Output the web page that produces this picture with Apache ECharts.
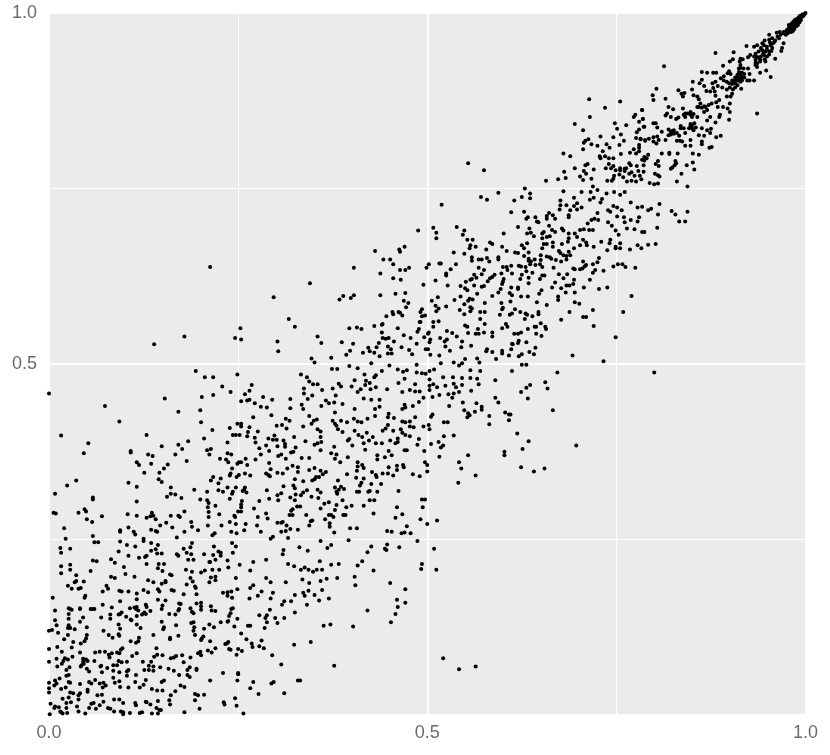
<!DOCTYPE html>
<html><head><meta charset="utf-8">
<style>html,body{margin:0;padding:0;background:#fff}#c{width:830px;height:755px}</style>
<script src="https://cdn.jsdelivr.net/npm/echarts@6/dist/echarts.min.js"></script>
</head><body><div id="c"></div>
<script>
// Values, in thousandths, as flat x,y,x,y lists, one list per part of the plot.
const tickLabels = ['0.0', '0.5', '1.0'];
const lowerLeft = [15,238,16,231,28,237,60,246,65,246,94,247,92,233,103,242,114,240,125,248,135,245,144,242,141,236,135,234,143,230,149,230,105,227,119,224,127,225,129,227,169,229,171,227,178,237,187,239,189,245,182,231,188,229,184,221,191,221,205,229,218,240,224,233,227,231,227,227,217,228,213,218,212,218,220,221,236,220,242,245,247,240,243,231,237,210,270,218,
16,212,16,202,28,214,28,207,58,220,63,219,55,205,82,222,87,217,99,211,101,201,113,197,82,197,87,195,129,215,145,215,152,215,144,209,150,205,160,200,162,199,181,207,189,204,201,203,206,206,216,207,225,207,36,199,36,191,34,189,46,190,25,184,30,180,39,180,42,181,76,184,78,180,71,176,93,177,96,176,105,176,116,173,125,178,131,192,138,189,131,175,144,179,146,176,149,187,154,191,154,189,162,178,165,177,182,186,187,195,190,190,193,183,194,181,178,172,195,172,212,189,214,196,220,197,220,192,230,174,236,175,241,176,236,170,242,167,247,195,249,179,252,214,266,206,270,185,266,181,276,170,281,176,287,195,293,189,287,221,265,166,293,166,296,174,
5,167,48,170,47,167,94,162,116,165,144,164,154,163,172,159,71,157,83,153,107,152,113,153,116,154,128,157,129,154,150,156,149,151,174,158,172,151,171,149,187,152,195,159,201,160,201,155,201,150,214,155,215,149,220,148,241,151,243,152,240,145,238,141,28,151,30,150,41,151,55,151,58,151,60,151,8,149,26,152,26,144,26,137,41,152,81,143,81,137,69,139,92,143,94,144,96,146,102,140,109,135,108,136,116,141,115,151,118,149,123,143,126,146,134,148,128,144,159,144,167,143,189,147,191,145,149,133,8,135,45,139,41,133,10,128,26,128,25,124,28,124,34,122,50,125,92,129,94,123,116,129,152,125,151,122,168,128,188,131,191,132,192,125,191,120,193,114,205,123,212,129,218,125,227,132,236,133,237,134,245,126,249,137,263,127,266,127,278,142,286,138,288,142,292,150,288,132,285,124,299,138,302,131,
0,120,4,121,12,117,25,114,50,114,72,120,79,114,84,110,92,115,93,113,121,124,138,114,160,110,160,108,171,113,204,112,202,109,201,107,20,108,49,109,47,105,42,102,32,104,108,105,119,110,118,105,115,103,213,105,237,104,235,102,233,101,254,116,261,108,268,102,269,97,281,106,278,98,284,95,30,96,11,97,0,94,17,90,41,89,61,89,67,90,74,90,79,86,83,88,90,89,95,93,97,95,93,88,142,95,143,86,150,85,110,84,116,88,197,88,200,90,201,85,210,92,215,89,220,95,238,94,240,93,250,94,255,91,248,86,295,85,
0,76,10,80,21,81,19,77,25,79,31,83,45,80,49,79,51,77,45,76,17,73,11,69,27,68,43,71,42,69,46,73,50,66,53,62,60,77,69,70,68,69,77,67,80,82,85,71,90,71,92,77,96,75,103,76,124,76,135,76,139,83,132,70,138,69,126,64,132,64,138,63,147,68,158,66,161,81,165,82,168,84,176,85,187,82,178,75,165,63,186,68,183,64,195,66,195,64,172,57,183,57,186,54,230,60,250,60,250,58,249,49,105,64,103,62,93,61,85,63,70,61,23,64,23,56,26,57,14,52,8,49,26,47,28,46,41,44,0,46,7,42,10,45,0,38,0,32,16,37,22,39,56,45,53,47,61,50,67,45,72,46,71,39,75,42,85,53,87,46,93,48,103,56,115,57,94,40,105,39,114,47,120,39,125,43,128,50,136,37,143,35,150,35,152,49,149,47,174,42,179,40,167,34,161,28,213,49,266,38,270,47,277,30,294,45,297,47,
51,36,51,33,41,31,28,32,32,31,39,28,39,22,26,25,18,23,64,28,70,29,193,30,197,28,205,29,246,24,193,21,159,21,86,22,93,22,98,17,114,17,115,14,128,19,129,18,134,15,144,20,160,15,231,18,232,15,248,13,199,9,2,16,8,12,13,11,7,10,23,17,29,18,23,10,37,12,56,16,59,17,53,10,62,9,72,19,67,14,78,10,81,9,86,5,95,5,98,4,123,4,120,3,107,3,142,10,146,7,148,7,136,2,144,2,179,4,257,2,15,5,16,4,18,2,24,3,1,1,39,5,48,2,98,1];
const lowerMiddle = [359,248,396,249,487,248,509,237,373,242,368,238,331,239,310,235,342,234,309,229,426,240,421,232,447,243,444,237,446,235,463,239,358,219,414,219,373,214,383,215,408,213,493,215,492,208,512,207,316,215,324,212,333,207,338,210,343,207,349,204,354,207,361,207,429,206,404,197,381,195,367,194,335,193,359,191,344,188,313,189,451,188,405,185,471,179,361,178,343,177,336,174,325,171,338,170,351,171,370,166,357,163,320,162,311,162,460,164,471,160,461,154,308,157,341,157,325,146,421,149,458,144,311,138,452,132,363,127,372,129,402,126,346,104,324,100,521,81,307,72,377,70,564,69,542,65,329,49,332,49,311,31];
const leftMiddle = [0,458,139,528,194,490,206,481,217,481,249,485,229,468,268,470,240,460,265,462,259,457,217,456,202,453,153,451,74,440,283,453,295,449,254,447,262,448,265,449,272,444,280,439,288,438,200,434,171,432,294,427,270,424,93,418,201,417,249,415,254,415,254,411,239,409,265,410,301,412,216,406,263,403,276,404,243,399,247,399,252,399,262,397,16,398,129,399,272,395,290,394,298,398,296,392,301,392,205,394,184,390,236,388,273,388,52,387,171,385,149,383,287,384,302,383,176,379,278,380,209,377,214,379,108,376,108,374,46,373,131,371,137,369,167,371,212,371,236,373,241,371,291,376,280,371,226,365,234,364,237,360,260,365,273,364,182,362,116,360,135,358,119,356,157,357,249,358,251,360,254,360,262,356,291,359,303,369,152,351,242,351,293,350,146,345,126,345,240,344,239,341,248,339,251,342,259,344,266,341,287,344,290,342,292,340,302,345,217,339,214,334,227,337,145,336,149,332,36,334,105,331,24,327,116,325,161,324,224,330,236,324,247,324,259,324,256,319,261,317,258,321,192,321,209,318,224,320,230,318,243,318,242,315,288,320,302,313,8,315,156,311,161,315,167,314,175,309,58,310,58,307,200,307,209,306,239,308,291,308,278,305,303,306,116,304,211,302,255,305,254,300,254,296,220,298,210,296,271,294,47,293,49,290,6,288,9,287,39,288,104,286,136,288,211,289,250,290,254,290,179,290,287,287,70,283,116,284,134,283,138,284,129,281,141,279,161,284,171,284,173,282,211,282,225,286,245,284,246,282,276,282,289,280,50,279,57,275,155,274,188,275,239,275,302,274,260,272,247,272,210,270,228,270,275,270,189,268,147,270,20,266,105,267,163,267,94,263,94,261,135,264,141,262,143,261,112,261,197,263,179,261,258,263,241,261,248,259,280,261,219,259,216,256,114,257,58,255,169,253,296,254,293,251,22,251,125,251];
const centre = [351,502,397,497,374,493,381,493,408,494,450,498,426,501,440,490,461,492,486,499,468,489,473,491,486,488,493,487,498,486,503,490,509,492,518,501,535,502,542,498,546,501,557,491,569,502,570,490,333,485,341,481,344,475,349,471,355,471,417,485,432,484,430,481,404,477,419,476,424,473,418,470,383,472,386,468,400,468,462,473,470,479,484,471,503,478,508,471,513,467,521,481,534,481,546,480,557,480,566,479,568,471,590,477,535,472,538,467,524,469,546,470,503,469,503,463,558,462,337,465,337,458,361,463,375,465,379,455,348,455,342,450,319,450,366,448,377,445,370,444,388,443,412,464,408,460,425,464,432,467,447,464,467,460,477,463,484,461,490,461,507,453,516,456,528,457,535,458,542,460,533,452,495,452,489,446,416,451,426,449,437,449,437,439,431,436,470,442,471,438,481,440,467,436,590,452,594,445,547,445,565,444,529,440,572,439,572,435,549,434,563,432,554,430,556,427,553,424,582,426,582,414,603,431,608,428,608,420,
334,442,319,437,336,436,360,440,404,436,378,431,344,426,313,422,318,419,354,421,350,419,347,415,375,419,386,419,394,417,403,422,408,418,413,417,421,422,431,426,449,429,448,424,456,423,484,424,467,418,471,417,477,418,507,428,505,425,522,417,527,417,308,413,314,408,336,411,355,407,359,404,378,415,380,412,382,407,388,403,404,405,409,399,420,402,441,405,445,408,448,413,455,405,465,407,467,402,471,399,477,411,482,410,477,397,495,411,502,413,503,407,522,397,535,398,324,396,339,390,359,396,360,389,355,387,351,385,310,391,312,386,312,382,326,381,323,375,320,374,397,393,395,391,401,384,414,396,416,387,423,391,428,396,432,387,440,387,451,391,461,394,461,389,458,387,489,393,487,385,505,386,515,389,521,384,518,381,377,382,373,373,380,371,378,365,385,360,359,377,418,378,449,376,470,377,473,377,496,376,434,370,453,370,444,367,434,364,395,367,307,371,313,365,334,366,344,366,516,368,554,370,542,360,602,375,602,370,497,360,500,356,545,351,500,347,
408,360,414,356,416,352,408,354,407,348,460,355,460,349,468,356,469,353,449,353,427,346,432,342,433,339,441,344,448,344,455,341,481,343,490,340,564,341,541,331,322,355,329,353,315,351,344,349,351,352,359,348,366,346,362,343,357,339,329,346,309,344,325,336,353,339,351,336,348,334,336,333,394,343,406,338,416,337,382,334,413,331,411,327,426,329,439,329,323,327,325,323,310,326,341,320,355,321,336,317,359,317,378,324,386,325,390,322,383,321,380,318,381,315,407,318,410,318,422,318,424,319,434,318,462,319,307,316,326,314,333,313,347,311,356,309,319,310,325,306,388,306,424,306,430,306,493,307,497,307,364,301,370,303,380,299,378,292,359,294,393,296,400,298,416,298,460,296,494,296,328,297,332,297,322,293,320,291,318,285,322,285,340,285,370,285,373,285,376,282,389,285,392,285,429,287,467,286,458,281,365,279,491,279,513,277,346,276,348,277,309,275,307,274,314,270,344,270,371,273,371,268,500,272,473,269,319,265,329,264,313,262,307,261,398,266,407,266,377,260,447,262,453,261,470,260,466,259,478,259,316,252];
const rightMiddle = [733,504,625,499,631,499,612,490,672,488,800,488,656,474,636,470,631,466,624,460,659,465,633,451,666,434,610,428,619,401,634,390,697,384,626,379,624,353,641,347,655,351];
const upperLeft = [488,690,470,667,463,663,464,660,431,661,442,649,451,649,455,642,403,637,464,634,471,634,476,637,438,629,455,622,465,620,213,638,345,615,297,595,384,592,389,597,399,594,403,598,438,598,458,600,471,601,469,590,475,587,472,581,454,574,455,571,462,574,464,573,467,569,446,568,317,564,325,553,253,551,179,539,246,537,254,535,302,532,303,518,355,539,360,530,347,508,373,509,387,531,397,551,407,552,413,550,402,529,398,519,393,513,415,516,422,523,424,518,430,554,440,556,441,557,440,545,441,537,445,536,449,537,461,551,456,532,436,530,433,524,430,516,437,511,448,525,452,521,448,515,453,515,466,524,469,541,478,537,486,529,487,546,489,550,490,560,476,520,480,514];
const upperMiddle = [554,786,575,776,714,877,755,874,735,865,784,862,715,852,775,855,773,852,785,849,780,845,695,842,748,843,763,840,786,838,706,833,751,835,780,834,777,830,756,827,729,824,746,823,776,822,782,821,713,820,709,818,707,815,760,818,788,818,717,813,725,811,737,813,754,812,780,812,741,808,706,806,773,806,780,808,732,803,780,803,680,800,768,801,776,800,689,796,756,799,735,796,728,796,729,793,740,793,746,793,787,795,784,791,767,786,769,783,740,785,712,785,709,783,746,782,777,782,786,783,695,779,736,779,743,779,720,777,749,776,755,779,755,776,761,778,763,779,761,775,779,775,786,774,681,774,707,775,710,771,770,773,767,771,781,768,754,770,747,768,746,764,759,766,774,768,683,765,702,767,717,764,706,762,783,763,657,761,673,763,738,761,744,761,764,760,770,761,776,760];
const middleUpper = [519,727,571,738,579,734,594,744,615,733,625,738,636,743,636,736,629,750,611,716,628,717,633,709,631,707,643,709,645,703,647,702,620,695,601,686,539,695,508,694,512,687,512,679,549,690,547,684,553,677,560,677,557,669,556,665,564,667,535,659,549,657,578,663,583,673,586,671,599,667,605,661,616,659,620,658,625,669,632,672,628,665,634,659,632,686,637,687,635,693,641,682,652,686,654,688,661,715,658,711,658,707,666,712,669,707,676,733,676,726,675,720,684,726,689,719,698,729,694,725,704,723,698,720,694,737,680,746,704,745,715,734,720,737,716,745,731,735,729,730,719,753,725,748,737,743,747,745,755,741,761,745,769,730,746,725,751,723,757,719,739,719,742,717,725,715,778,723,784,724,792,719,687,712,687,709,661,697,665,691,669,688,678,693,680,690,702,691,707,692,714,691,719,691,712,700,717,705,721,707,726,705,739,702,744,697,749,690,753,684,751,710,760,709,769,705,780,709,761,702,778,703,764,693,774,692,784,688,787,688,
652,679,658,681,662,682,654,671,658,671,666,673,666,667,678,671,687,686,695,686,687,679,686,674,698,681,706,677,702,669,710,673,711,669,720,667,730,674,742,677,741,672,738,662,749,667,755,672,749,665,755,665,768,663,778,669,783,665,792,670,652,665,650,655,650,648,642,649,637,646,634,647,636,642,643,641,649,642,628,654,634,650,559,652,559,647,568,649,572,649,579,651,582,646,594,652,594,649,658,653,662,652,664,650,670,648,674,661,676,658,680,655,684,649,677,646,684,654,689,655,687,660,694,665,516,643,518,643,502,642,499,637,538,642,531,635,525,629,525,626,562,627,568,637,575,634,572,628,589,627,598,629,600,638,605,638,606,634,612,629,611,640,621,640,624,639,630,638,631,632,625,627,639,630,652,638,667,637,674,628,685,628,693,636,695,635,702,635,705,636,708,639,710,641,706,646,719,642,725,645,727,651,722,634,719,630,733,633,746,639,752,642,758,642,762,638,775,637,
511,619,495,613,527,612,551,617,557,620,559,621,565,623,544,611,550,608,553,605,562,612,566,600,572,610,575,611,580,618,583,622,586,624,601,621,600,617,599,614,597,607,594,602,611,609,620,609,620,607,609,601,623,621,634,623,634,615,649,621,652,626,655,626,651,605,648,600,669,616,665,609,677,608,680,622,684,612,688,612,693,614,694,620,683,602,695,602,707,609,715,620,727,607,738,609,770,597,506,590,514,595,511,583,515,579,512,575,493,578,491,574,525,582,536,591,544,596,556,593,554,590,560,592,549,585,543,577,557,581,559,579,576,587,586,597,598,587,610,589,612,598,624,596,633,596,645,588,658,584,673,596,673,591,695,588,701,586,719,577,759,574,549,571,557,575,576,574,570,574,596,570,600,580,599,578,609,570,612,572,616,578,623,574,630,572,632,570,639,568,647,574,647,571,688,574,706,567,710,567,677,563,720,554,749,538,
497,569,493,568,491,560,508,560,515,561,508,553,570,564,576,557,550,555,553,553,567,550,599,551,604,557,606,553,629,564,633,550,642,553,644,553,650,558,656,553,657,550,526,547,533,544,554,544,564,543,568,543,575,545,586,545,586,539,502,545,501,543,496,538,517,537,526,535,523,532,539,539,504,535,503,531,546,532,615,543,620,543,624,545,644,543,651,540,524,525,558,526,545,524,498,521,501,521,530,519,612,529,613,528,621,533,620,530,631,531,643,523,579,521,578,518,586,517,599,519,599,515,611,521,608,512,621,511,625,514,635,517,641,514,692,512,504,513,516,512,550,507,566,508,591,507];
const besideUpper = [807,728,796,721,823,718,828,713,844,717,805,713,833,703,841,703,804,694,802,671];
const topRight = [813,924,881,943,936,857,905,944,922,953,844,753,830,760,836,771,853,777,851,787,843,783,828,789,829,786,827,783,822,778,824,780,820,801,820,799,831,800,851,800,859,798,810,800,805,789,802,785,806,782,801,771,805,769,807,767,794,758,800,756,805,757,873,808,876,809,863,817,863,813,848,819,848,811,882,823,888,825,859,826,866,825,870,833,875,835,874,829,863,836,855,837,852,833,848,839,850,836,853,843,848,842,835,836,839,836,830,829,841,829,833,825,837,817,830,818,841,811,834,818,824,832,819,834,822,827,826,828,819,826,810,831,804,824,799,823,806,819,799,817,803,814,815,819,793,821,788,819,782,820,799,843,802,843,804,837,787,838,785,849,784,862,798,883,799,876,803,892,815,878,819,866,825,863,817,857,822,852,815,854,832,851,829,849,838,864,839,855,844,857,848,855,852,856,841,852,850,852,857,852,832,890,836,885,838,881,840,886,850,891,851,902,860,900,863,905,866,896,852,883,857,881,859,877,861,871,857,866,863,865,868,866,872,869,876,871,870,862,866,859,874,852,870,847,881,844,887,855,886,852,899,848,891,866,884,866,897,864,900,859,882,873,886,876,881,882,880,888,874,888,869,889,877,900,881,902,884,896,878,893,890,894,896,881,901,881,903,885,900,871,863,916,870,915,878,915,882,915,891,925,900,931,904,934,914,935,917,934,913,931,914,922,912,921,918,921,924,921,899,917,897,914,901,913,892,910,888,907,892,904,896,902,899,900,903,899,907,900,910,904,913,907,916,909,919,908,923,904,926,904,932,904,926,913,910,912,907,908,914,902,910,897,907,894,904,891,915,892,934,926,936,923,940,915,948,918,954,909,936,928,934,933,932,938,927,940,924,937,932,952,936,954,943,957,946,961,952,969,952,962,956,964,962,972,963,966,959,959,954,954,949,952,952,945,956,950,960,935,947,945,943,947,938,945,934,938,941,938,945,940,949,938,947,931,940,931,971,957,969,950,968,946,967,969,971,973,975,975,978,978,980,976,976,971,971,971,982,985,985,983,987,988,989,985,991,990,993,992,996,995,998,997,1000,1000,999,999,997,996,992,991,990,989,988,986,986,981,982,980,980,981,978,983,984,978,987,984,990,983,994,990,979,977,983,974,976,976,974,969,966,973];
const topRightClumps = [977,972,979,979,981,984,984,988,986,990,988,991,991,994,993,996,996,998,992,987,988,981,985,977,981,973,978,979,941,950,945,954,949,948,953,958,957,957,960,961,965,964,944,942,937,937,934,942,940,934,955,946,952,941,946,934,934,929,912,916,914,912,907,904,912,904,916,904,905,902,910,908,916,915,914,926,919,913,903,904,900,894,896,891,822,831,826,833,835,839,841,857,848,859,846,836,850,840,859,866,866,867,790,793,787,790,792,798];

const regions = [lowerLeft, lowerMiddle, leftMiddle, centre, rightMiddle, upperLeft, upperMiddle, middleUpper, besideUpper, topRight, topRightClumps];
const points = [];
regions.forEach(function (r) {
  for (let i = 0; i + 1 < r.length; i += 2) points.push([r[i] / 1000, r[i + 1] / 1000]);
});

const labelStyle = { color: '#6b6b6b', fontFamily: 'Liberation Sans', fontSize: 18 };
const gridLines = {
  splitLine: { show: true, lineStyle: { color: '#fff', width: 2 } },
  minorTick: { show: false, splitNumber: 2 },
  minorSplitLine: { show: true, lineStyle: { color: '#fff', width: 1 } },
  axisLine: { show: false }, axisTick: { show: false }
};
const chart = echarts.init(document.getElementById('c'), null, { renderer: 'canvas' });
chart.setOption({
  animation: false,
  grid: { left: 49, right: 24.5, top: 13, bottom: 40, backgroundColor: '#ebebeb', show: true, borderWidth: 0 },
  xAxis: Object.assign({ type: 'value', min: 0, max: 1, interval: 0.5,
    axisLabel: Object.assign({ margin: 9, hideOverlap: false, showMinLabel: true, showMaxLabel: true,
      formatter: function (v) { return tickLabels[Math.round(v * 2)]; } }, labelStyle) }, gridLines),
  yAxis: Object.assign({ type: 'value', min: 0, max: 1, interval: 0.5,
    axisLabel: Object.assign({ margin: 12, showMinLabel: true, showMaxLabel: true,
      formatter: function (v) { return v === 0 ? '' : tickLabels[Math.round(v * 2)]; } }, labelStyle) }, gridLines),
  series: [{ type: 'scatter', data: points, symbol: 'circle', symbolSize: 4, clip: false,
    itemStyle: { color: '#000', opacity: 1 }, large: false }]
});
</script></body></html>
